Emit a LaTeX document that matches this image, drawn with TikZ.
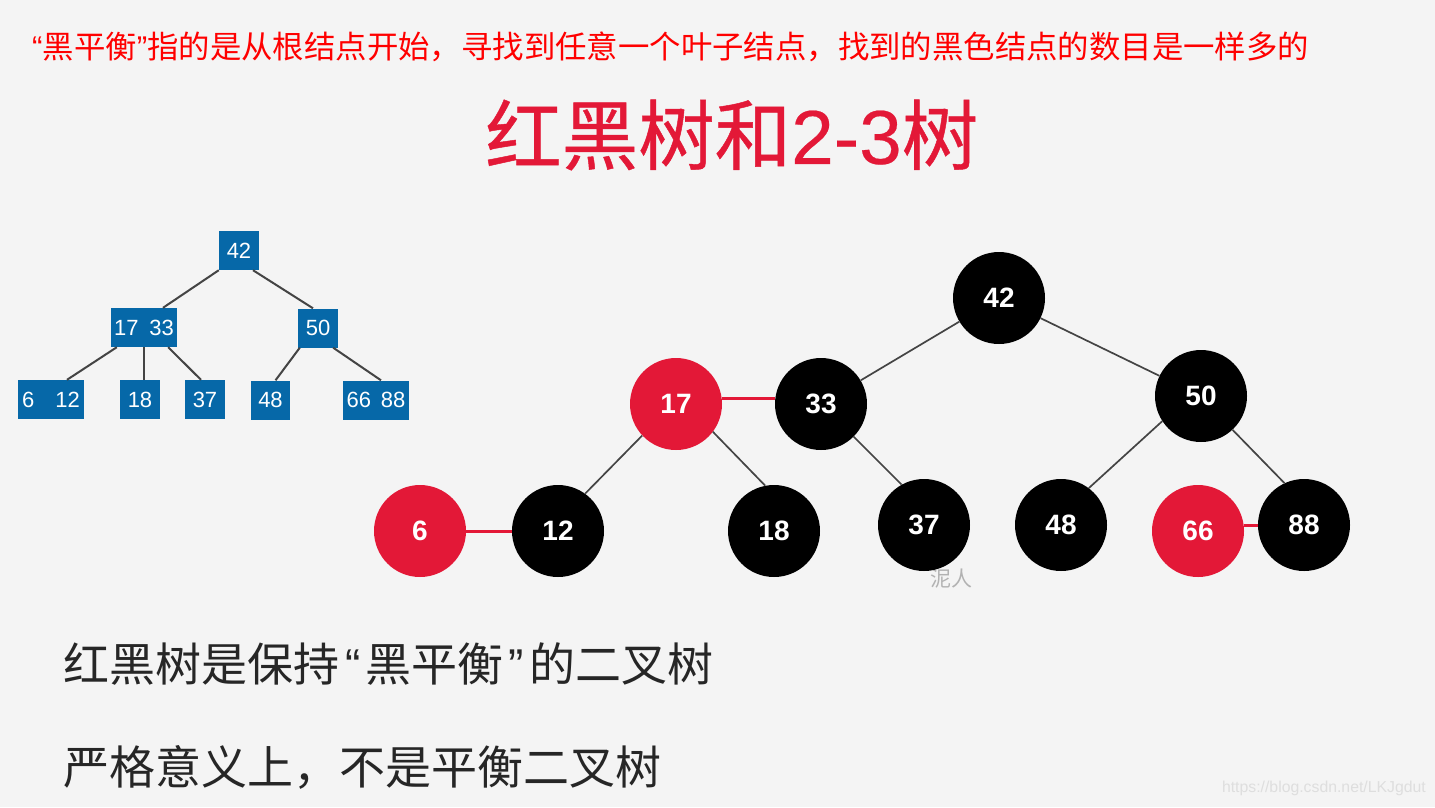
\documentclass[tikz,border=0pt]{standalone}
\usepackage{fontspec}
\setmainfont{Noto Sans CJK SC}
\newfontfamily\latinfont{Liberation Sans}
\newfontfamily\titlefont[FakeBold=0.6]{Noto Sans CJK SC}
\newfontfamily\titlelatin[FakeBold=0.3]{Liberation Sans}
\newcommand{\px}[1]{\fontsize{#1}{#1}\selectfont}
\newcommand{\OpenQ}{\hspace{6pt}{\latinfont “}\hspace{1pt}}
\newcommand{\CloseQ}{\hspace{1pt}{\latinfont ”}\hspace{6pt}}
\definecolor{slidebg}{HTML}{F4F4F4}
\definecolor{boxblue}{HTML}{0668A8}
\definecolor{treered}{HTML}{E31837}
\definecolor{linegray}{HTML}{444444}
\tikzset{
	BoxVertex/.style = {fill = boxblue, text = white, inner sep = 0pt,
		minimum height = 39pt, font = \latinfont\px{22}},
	BlackVertex/.style = {shape = circle, fill = black, text = white, inner sep = 0pt,
		minimum size = 92pt, font = \latinfont\bfseries\px{28}},
	RedVertex/.style = {BlackVertex, fill = treered},
	BoxEdge/.style = {draw = linegray, line width = 2pt},
	TreeEdge/.style = {draw = linegray, line width = 1.7pt},
	RedEdge/.style = {draw = treered, line width = 3pt},
	SlideText/.style = {anchor = west, inner sep = 0pt}
}

\begin{document}
\begin{tikzpicture}[x=1pt,y=-1pt]
\fill[slidebg] (0,0) rectangle (1435,807);
\useasboundingbox (0,0) rectangle (1435,807);

% texts
\node[SlideText, text = red, font = \px{31.4}] (note) at (32,47)
	{{\latinfont “}黑平衡{\latinfont ”}指的是从根结点开始，寻找到任意一个叶子结点，找到的黑色结点的数目是一样多的};
\node[SlideText, text = treered, font = \titlefont\px{76.5}] (title) at (485,135)
	{红黑树和{\titlelatin 2-3}树};
\node[SlideText, text = black!85, font = \px{46}] (lineA) at (63,664)
	{红黑树是保持\OpenQ {\hspace{4pt}}黑平衡{\hspace{4pt}}\CloseQ 的二叉树};
\node[SlideText, text = black!85, font = \px{46}] (lineB) at (63,767)
	{严格意义上，不是平衡二叉树};
\node[text = black!30, inner sep = 0pt, font = \px{21}] (mark) at (951,579) {泥人};
\node[anchor = east, text = black!13, inner sep = 0pt, font = \latinfont\px{15.8}] (url) at (1426,788)
	{https://blog.csdn.net/LKJgdut};

% 2-3 tree
\node[BoxVertex, minimum width = 40pt] (b42) at (239,250.5) {42};
\node[BoxVertex, minimum width = 66pt] (b1733) at (144,327.5) {17\hspace{11pt}33};
\node[BoxVertex, minimum width = 40pt] (b50) at (318,328) {50};
\node[BoxVertex, minimum width = 66pt] (b612) at (51,399.5) {6\hspace{21pt}12};
\node[BoxVertex, minimum width = 40pt] (b18) at (140,399.5) {18};
\node[BoxVertex, minimum width = 40pt] (b37) at (205,399.5) {37};
\node[BoxVertex, minimum width = 39pt] (b48) at (270.5,400) {48};
\node[BoxVertex, minimum width = 66pt] (b6688) at (376,400) {66\hspace{10pt}88};

\draw[BoxEdge] (b42.south west) -- ([xshift=19pt]b1733.north);
\draw[BoxEdge] ([xshift=14pt]b42.south) -- ([xshift=-5pt]b50.north);
\draw[BoxEdge] ([xshift=6pt]b1733.south west) -- ([xshift=16pt]b612.north);
\draw[BoxEdge] (b1733.south) -- (b1733.south |- b18.north);
\draw[BoxEdge] ([xshift=-9pt]b1733.south east) -- ([xshift=-4pt]b37.north);
\draw[BoxEdge] ([xshift=2pt]b50.south west) -- ([xshift=5pt]b48.north);
\draw[BoxEdge] ([xshift=-5pt]b50.south east) -- ([xshift=5pt]b6688.north);

% red-black tree
\node[BlackVertex] (r42) at (999,298) {42};
\node[RedVertex] (r17) at (676,404) {17};
\node[BlackVertex] (r33) at (821,404) {33};
\node[BlackVertex] (r50) at (1201,396) {50};
\node[RedVertex] (r6) at (420,531) {6};
\node[BlackVertex] (r12) at (558,531) {12};
\node[BlackVertex] (r18) at (774,531) {18};
\node[BlackVertex] (r37) at (924,525) {37};
\node[BlackVertex] (r48) at (1061,525) {48};
\node[RedVertex] (r66) at (1198,531) {66};
\node[BlackVertex] (r88) at (1304,525) {88};

\draw[TreeEdge] (r42) -- (r33);
\draw[TreeEdge] (r42) -- (r50);
\draw[TreeEdge] (r17.-137) -- (r12.54);
\draw[TreeEdge] (r17.-37) -- (r18.101);
\draw[TreeEdge] (r33.-45) -- (r37.119);
\draw[TreeEdge] (r50.-147) -- (r48.53);
\draw[TreeEdge] (r50.-47) -- (r88.115);
\draw[RedEdge] ([yshift=6pt]r17.east) -- ([yshift=6pt]r33.west);
\draw[RedEdge] (r6) -- (r12);
\draw[RedEdge] ([yshift=6pt]r66.east) -- (r88.west);
\end{tikzpicture}
\end{document}
